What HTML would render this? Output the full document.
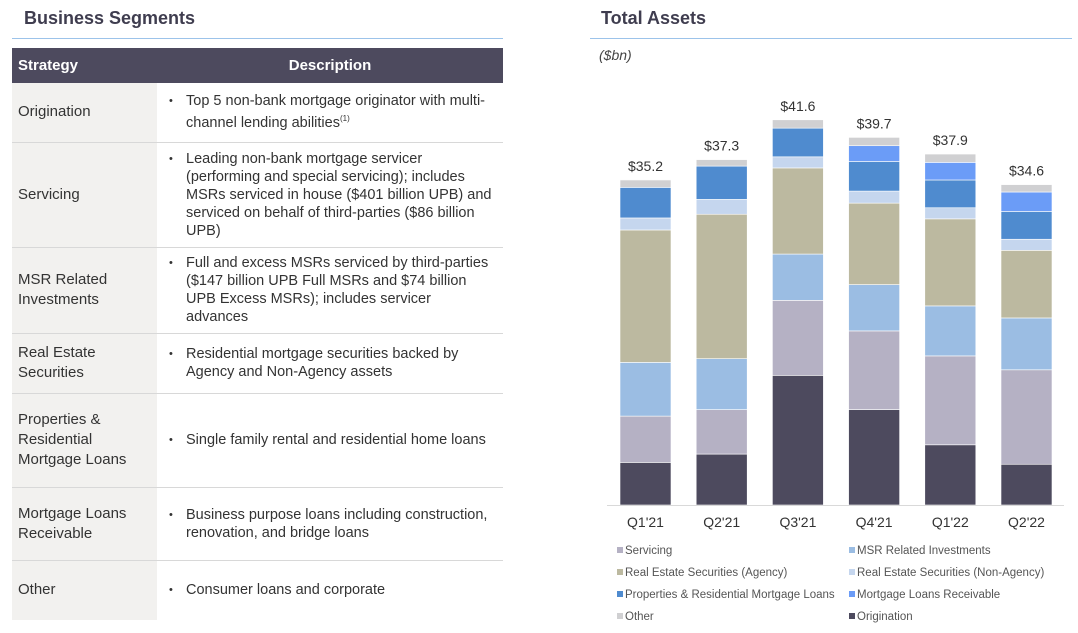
<!DOCTYPE html>
<html><head><meta charset="utf-8">
<style>
body{margin:0;width:1078px;height:633px;background:#fff;font-family:"Liberation Sans",sans-serif;position:relative;overflow:hidden;color:#333}
.abs{position:absolute}
.title{font-weight:bold;font-size:18px;color:#3f3d4f}
table{border-collapse:collapse;position:absolute;left:12px;top:48px;width:491px;font-size:14.5px;color:#333}
th{background:#4d4a5e;color:#fff;height:35px;font-size:15px;padding:0}
td{border-bottom:1px solid #d8d8d8;padding:0;vertical-align:middle}
td.s{background:#f2f1ef;width:139px;padding-left:6px;font-size:15px;line-height:20px}
td.d{padding-left:12px;line-height:18px}
td.d div{position:relative;padding-left:17px;width:306px}
td.d div:before{content:"•";position:absolute;left:0;top:0;font-size:11px}
</style></head><body>
<div class="abs title" style="left:24px;top:8px">Business Segments</div>
<div class="abs" style="left:12px;top:38px;width:491px;height:1px;background:#9cc3ea"></div>
<table>
<tr><th style="text-align:left;padding-left:6px;width:139px">Strategy</th><th>Description</th></tr>
<tr style="height:59px"><td class="s">Origination</td><td class="d"><div>Top 5 non-bank mortgage originator with multi-channel lending abilities<sup style="font-size:8px">(1)</sup></div></td></tr>
<tr style="height:105px"><td class="s">Servicing</td><td class="d"><div>Leading non-bank mortgage servicer (performing and special servicing); includes MSRs serviced in house ($401 billion UPB) and serviced on behalf of third-parties ($86 billion UPB)</div></td></tr>
<tr style="height:86px"><td class="s">MSR Related Investments</td><td class="d"><div>Full and excess MSRs serviced by third-parties ($147 billion UPB Full MSRs and $74 billion UPB Excess MSRs); includes servicer advances</div></td></tr>
<tr style="height:60px"><td class="s">Real Estate Securities</td><td class="d"><div>Residential mortgage securities backed by Agency and Non-Agency assets</div></td></tr>
<tr style="height:94px"><td class="s">Properties &amp; Residential Mortgage Loans</td><td class="d"><div>Single family rental and residential home loans</div></td></tr>
<tr style="height:73px"><td class="s">Mortgage Loans Receivable</td><td class="d"><div>Business purpose loans including construction, renovation, and bridge loans</div></td></tr>
<tr style="height:60px"><td class="s" style="border-bottom:none">Other</td><td class="d" style="border-bottom:none"><div>Consumer loans and corporate</div></td></tr>
</table>
<div class="abs title" style="left:601px;top:8px">Total Assets</div>
<div class="abs" style="left:590px;top:38px;width:482px;height:1px;background:#9cc3ea"></div>
<div class="abs" style="left:599px;top:47px;font-style:italic;font-size:14px;color:#444">($bn)</div>
<svg id="chart" class="abs" style="left:0;top:0" width="1078" height="633"></svg>
<script>
const categories=["Q1'21","Q2'21","Q3'21","Q4'21","Q1'22","Q2'22"];
const totals=["$35.2","$37.3","$41.6","$39.7","$37.9","$34.6"];
const origination=[4.6,5.5,14.0,10.3,6.5,4.4];
const servicing=[5.0,4.8,8.1,8.5,9.6,10.2];
const msr=[5.8,5.5,5.0,5.0,5.4,5.6];
const resAgency=[14.3,15.6,9.3,8.8,9.4,7.3];
const resNonAgency=[1.3,1.6,1.2,1.3,1.2,1.2];
const properties=[3.3,3.6,3.1,3.2,3.0,3.0];
const mortgageLoans=[0,0,0,1.7,1.9,2.1];
const other=[0.8,0.7,0.9,0.9,0.9,0.8];
const seriesNames=["origination","servicing","msr-related","res-agency","res-non-agency","properties","mortgage-loans-receivable","other"];
const series=[origination,servicing,msr,resAgency,resNonAgency,properties,mortgageLoans,other];
const colors=["#4d4a5e","#b5b1c4","#9bbde3","#bcb9a0","#c5d6ee","#4f8bcf","#6b9cf7","#d0d0d2"];
const NS="http://www.w3.org/2000/svg";
const svg=document.getElementById('chart');
const base=505,scale=9.26,x0=620,step=76.2,bw=51;
const y=v=>base-v*scale;
const xb=i=>x0+i*step;
function mk(t,a){const e=document.createElementNS(NS,t);for(const k in a)e.setAttribute(k,a[k]);svg.appendChild(e);return e;}
categories.forEach((c,i)=>{
  let acc=0;
  series.forEach((s,j)=>{
    const v=s[i]; if(v<=0)return;
    const r=mk('rect',{x:xb(i),y:y(acc+v),width:bw,height:v*scale,fill:colors[j],stroke:'#fff','stroke-width':0.6});
    
    
    acc+=v;
  });
  const t=mk('text',{x:xb(i)+bw/2,y:y(acc)-9,'text-anchor':'middle','font-size':14,fill:'#333'});
  t.textContent=totals[i];
  
  
  const l=mk('text',{x:xb(i)+bw/2,y:527,'text-anchor':'middle','font-size':14,fill:'#333'});
  l.textContent=c;
  
  
});
const ax=mk('line',{x1:607,x2:1064,y1:base+0.5,y2:base+0.5,stroke:'#d9d9d9','stroke-width':1});


const legend=[["Servicing",1,617,553],["MSR Related Investments",2,849,553],["Real Estate Securities (Agency)",3,617,575],["Real Estate Securities (Non-Agency)",4,849,575],["Properties & Residential Mortgage Loans",5,617,597],["Mortgage Loans Receivable",6,849,597],["Other",7,617,619],["Origination",0,849,619]];
legend.forEach(([n,ci,lx,ly])=>{
  const r=mk('rect',{x:lx,y:ly-6,width:6,height:6,fill:colors[ci]});
  
  
  const t=mk('text',{x:lx+8,y:ly+1,'font-size':11.5,fill:'#555'});
  t.textContent=n;
  
  
});
</script>
</body></html>
